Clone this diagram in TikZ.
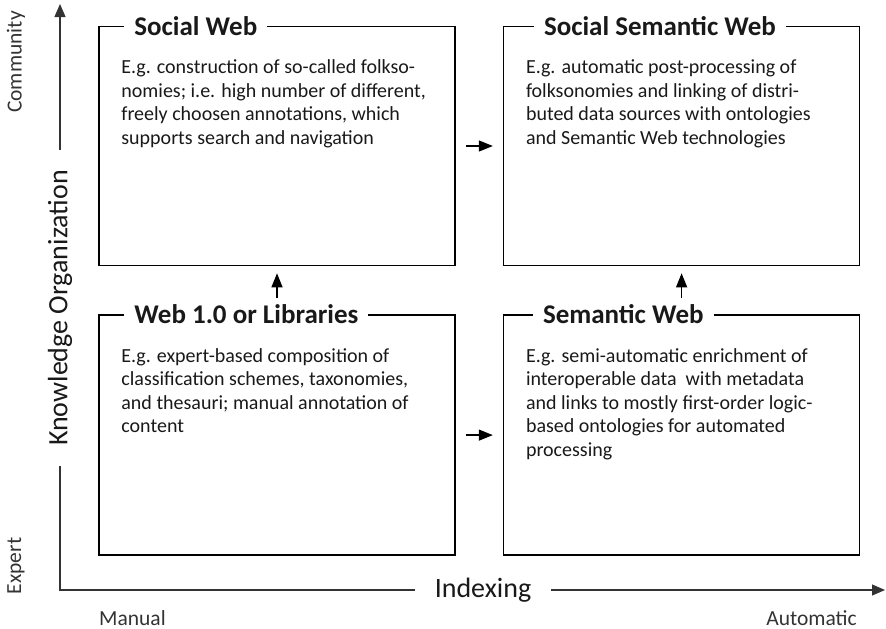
\documentclass[tikz,border=0pt]{standalone}
\usepackage{fontspec}
\setmainfont{Carlito}
\usepackage{tikz}
\usetikzlibrary{positioning,arrows.meta}

\begin{document}
\begin{tikzpicture}[x=1pt, y=1pt, node distance=47pt,
  every node/.style={font=\fontsize{20}{23.5}\selectfont, text=black!90},
  box/.style={draw, line width=1.6pt, minimum width=356pt, minimum height=239pt, inner sep=0pt},
  boxtitle/.style={fill=white, inner xsep=10pt, inner ysep=2pt, font=\fontsize{27}{30}\selectfont\bfseries},
  boxtext/.style={align=left, inner sep=0pt},
  axis/.style={draw=black!80, line width=1.1pt},
  axislabel/.style={fill=white, inner xsep=20pt, font=\fontsize{28}{32}\selectfont},
  sidelabel/.style={font=\fontsize{21.5}{24}\selectfont, text=black!80},
  flow/.style={-{Triangle[length=14pt,width=11pt]}, line width=1.3pt}]

\useasboundingbox (0,0) rectangle (886,-629);

% Axes
\coordinate (origin) at (60,-590);
\coordinate (ytop) at (60,-4);
\coordinate (xend) at (885,-590);
\draw[axis, {Triangle[length=13pt,width=11pt]}-{Triangle[length=13pt,width=11pt]}] (ytop) -- (origin) -- (xend);
\node[axislabel, rotate=90] (ko) at (60,-308) {Knowledge Organization};
\node[axislabel] (idx) at (483,-590) {Indexing};

% Axis ends
\node[sidelabel, rotate=90] (community) at (16,-62) {Community};
\node[sidelabel, rotate=90] (expert) at (16,-566) {Expert};
\node[sidelabel, anchor=west, inner xsep=0pt] (manual) at (99,-618) {Manual};
\node[sidelabel, anchor=east, inner xsep=0pt] (automatic) at (857,-618) {Automatic};

% Main boxes
\node[box] (sw) at (277,-146) {};
\node[box, right=of sw] (ssw) {};
\node[box, below=48pt of sw, minimum height=240pt] (w1) {};
\node[box, right=of w1, minimum height=240pt] (sem) {};

% Box titles
\node[boxtitle, right=26pt of sw.north west] (swtitle) {Social Web};
\node[boxtitle, right=31pt of ssw.north west] (sswtitle) {Social Semantic Web};
\node[boxtitle, right=26pt of w1.north west] (w1title) {Web 1.0 or Libraries};
\node[boxtitle, right=30pt of sem.north west] (semtitle) {Semantic Web};

% Box texts
\node[boxtext, below right=34pt and 23pt of sw.north west] (swtext) {E.g. construction of so-called folkso-\\nomies; i.e. high number of different,\\freely choosen annotations, which\\supports search and navigation};
\node[boxtext, below right=34pt and 23pt of ssw.north west] (sswtext) {E.g. automatic post-processing of\\folksonomies and linking of distri-\\buted data sources with ontologies\\and Semantic Web technologies};
\node[boxtext, below right=34pt and 23pt of w1.north west] (w1text) {E.g. expert-based composition of\\classification schemes, taxonomies,\\and thesauri; manual annotation of\\content};
\node[boxtext, below right=34pt and 23pt of sem.north west] (semtext) {E.g. semi-automatic enrichment of\\interoperable data\ \ with metadata\\and links to mostly first-order logic-\\based ontologies for automated\\processing};

% Transitions
\draw[flow] ([xshift=10pt]sw.east) -- ([xshift=-10pt]ssw.west);
\draw[flow] ([xshift=10pt]w1.east) -- ([xshift=-10pt]sem.west);
\draw[flow] ([yshift=16pt]w1.north) -- ([yshift=-7pt]sw.south);
\draw[flow] ([yshift=16pt]sem.north) -- ([yshift=-7pt]ssw.south);

\end{tikzpicture}
\end{document}
